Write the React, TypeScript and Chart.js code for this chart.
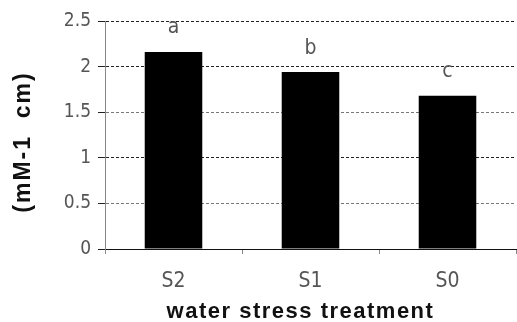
import React, { useEffect, useRef } from "react";
import { Chart, registerables } from "chart.js";

Chart.register(...registerables);

const categories: string[] = ["S2", "S1", "S0"];
const values: number[] = [2.16, 1.94, 1.68];
const letters: string[] = ["a", "b", "c"];
const yTickValues: number[] = [0, 0.5, 1, 1.5, 2, 2.5];
const xTitle = "water stress treatment";
const yTitle = "(mM-1  cm)";

const NARROW = "'Liberation Sans Narrow', 'DejaVu Sans Condensed', 'Liberation Sans', sans-serif";
const BOLD = "'Liberation Sans', Arial, sans-serif";

const annotatePlugin = {
  id: "annotate",
  afterDatasetsDraw(chart: any) {
    const ctx = chart.ctx as CanvasRenderingContext2D;
    const meta = chart.getDatasetMeta(0);
    ctx.save();
    ctx.fillStyle = "#555";
    ctx.font = `21px ${NARROW}`;
    ctx.textAlign = "center";
    ctx.textBaseline = "middle";
    meta.data.forEach((bar: any, i: number) => {
      ctx.fillText(letters[i], bar.x, bar.y - 24);
    });
    ctx.restore();
  },
  afterDraw(chart: any) {
    const ctx = chart.ctx as CanvasRenderingContext2D;
    const area = chart.chartArea;
    ctx.save();
    ctx.fillStyle = "#111";
    ctx.textAlign = "center";
    ctx.textBaseline = "alphabetic";
    (ctx as any).letterSpacing = "1.5px";
    ctx.font = `bold 22px ${BOLD}`;
    ctx.fillText(xTitle, (area.left + area.right) / 2 - 10, 318);
    ctx.restore();

    ctx.save();
    ctx.fillStyle = "#111";
    ctx.translate(24, 142);
    ctx.rotate(-Math.PI / 2);
    ctx.textAlign = "center";
    ctx.textBaseline = "middle";
    (ctx as any).letterSpacing = "2px";
    ctx.font = `bold 23px ${BOLD}`;
    ctx.fillText(yTitle, 0, 0);
    ctx.restore();
  },
};

export default function App() {
  const ref = useRef<HTMLCanvasElement | null>(null);

  useEffect(() => {
    document.body.style.margin = "0";
    if (!ref.current) return;
    const chart = new Chart(ref.current, {
      type: "bar",
      data: {
        labels: categories,
        datasets: [
          {
            data: values,
            backgroundColor: "#000",
            borderWidth: 0,
            barPercentage: 0.42,
            categoryPercentage: 1,
          },
        ],
      },
      options: {
        responsive: false,
        animation: false,
        layout: { padding: { top: 21, right: 1, left: 0, bottom: 0 } },
        plugins: {
          legend: { display: false },
          tooltip: { enabled: false },
          title: { display: false },
        },
        scales: {
          x: {
            type: "category",
            afterFit: (s: any) => {
              s.height = 73;
            },
            grid: {
              offset: true,
              drawOnChartArea: false,
              drawTicks: true,
              tickLength: 5,
              tickColor: "#888",
            },
            border: { color: "#111", width: 1 },
            ticks: {
              color: "#555",
              font: { family: NARROW, size: 21 },
              padding: 15,
            },
          },
          y: {
            min: 0,
            max: 2.5,
            afterFit: (s: any) => {
              s.width = 105;
            },
            afterBuildTicks: (s: any) => {
              s.ticks = yTickValues.map((v) => ({ value: v }));
            },
            ticks: {
              color: "#555",
              font: { family: NARROW, size: 19 },
              padding: 7,
              callback: (v: any) => String(v),
            },
            grid: {
              color: (c: any) => {
                const v = c.tick ? c.tick.value : 0;
                if (v === 0) return "rgba(0,0,0,0)";
                if (v === 0.5 || v === 1.5) return "#777";
                return "#222";
              },
              lineWidth: 1,
              tickLength: 7,
              tickColor: "#222",
            },
            border: { color: "#888", width: 1, dash: [3, 2] },
          },
        },
      },
      plugins: [annotatePlugin],
    });
    return () => chart.destroy();
  }, []);

  return (
    <div style={{ width: 517, height: 322, background: "#fff" }}>
      <canvas ref={ref} width={517} height={322} />
    </div>
  );
}
